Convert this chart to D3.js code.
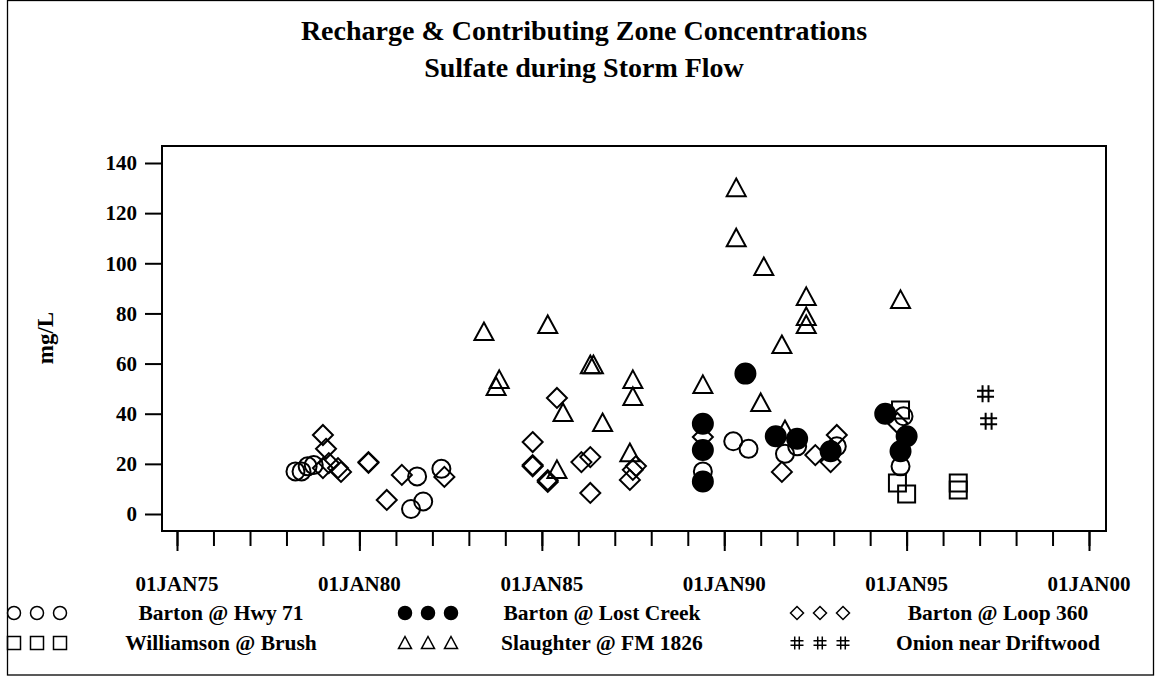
<!DOCTYPE html>
<html>
<head>
<meta charset="utf-8">
<script src="https://cdn.jsdelivr.net/npm/d3@7"></script>
<style>
  body { margin: 0; background: #fff; }
  text { font-family: "Liberation Serif", "DejaVu Serif", serif; font-weight: bold; fill: #000; }
</style>
</head>
<body>
<div id="myChart"></div>
<script>
// sampling dates (YYYY-MM) and sulfate values (mg/L) per station
var hwy71Dates = ["1978-04","1978-06","1978-08","1978-10","1981-08","1981-06","1981-10","1982-04",
  "1989-06","1990-04","1990-09","1991-09","1992-01","1993-02","1994-12","1994-11"];
var hwy71Vals = [17, 17, 19, 19.5, 15, 2, 5, 18, 17, 29, 26, 24, 27, 27, 39, 19];

var lostCreekDates = ["1989-06","1989-06","1989-06","1990-08","1991-06","1992-01","1992-12","1994-06","1995-01","1994-11"];
var lostCreekVals = [36, 25.5, 13, 56, 31, 30, 25, 40, 31, 25];

var loop360Dates = ["1979-01","1979-02","1979-03","1979-01","1979-06","1979-07","1980-04","1980-04","1980-10",
  "1981-03","1982-05","1985-06","1984-10","1984-10","1984-10","1985-03","1985-03","1986-02","1986-05",
  "1986-05","1987-06","1987-07","1987-08","1989-06","1991-08","1992-07","1993-02","1992-12","1994-10"];
var loop360Vals = [31.5, 26, 20.3, 18.3, 18.3, 16.8, 20.7, 20.4, 5.6,
  15.6, 14.8, 46.3, 28.7, 19.5, 19, 12.8, 13.5, 20.7, 22.7,
  8.4, 13.6, 17.6, 19.1, 30.7, 16.8, 23.5, 31.5, 20.7, 36.3];

var williamsonDates = ["1994-10","1995-01","1994-11","1996-06","1996-06"];
var williamsonVals = [12.4, 8, 41.5, 12.4, 9.6];

var slaughterDates = ["1983-06","1983-11","1983-10","1985-03","1985-08","1985-06","1986-05","1986-06","1986-09",
  "1987-07","1987-07","1987-06","1989-06","1990-05","1990-05","1991-02","1992-04","1992-04","1992-04",
  "1991-08","1991-01","1991-09","1994-11"];
var slaughterVals = [72.6, 53.5, 50.7, 75.4, 40.3, 17.6, 59.4, 59.4, 36.3,
  53.5, 46.7, 24.3, 51.5, 130, 110, 98.5, 86.6, 78.6, 75.4,
  67.4, 44.3, 33.5, 85.4];

var onionDates = ["1997-03","1997-04"];
var onionVals = [48, 37];

var xTickDates = ["1975","1980","1985","1990","1995","2000"];
var xTickLabels = ["01JAN75","01JAN80","01JAN85","01JAN90","01JAN95","01JAN00"];
var yTicks = [0, 20, 40, 60, 80, 100, 120, 140];

var legendNames = ["Barton @ Hwy 71", "Barton @ Lost Creek", "Barton @ Loop 360",
  "Williamson @ Brush", "Slaughter @ FM 1826", "Onion near Driftwood"];

var width = 1160, height = 676;
var frame = {left: 162, right: 1106, top: 146, bottom: 531};

var parseMonth = d3.timeParse("%Y-%m");
var parseYear = d3.timeParse("%Y");

var svg = d3.select("#myChart").append("svg")
  .attr("width", width).attr("height", height);

// outer border
svg.append("rect")
  .attr("x", 7.5).attr("y", 0.5).attr("width", 1146).attr("height", 674.5)
  .attr("fill", "none").attr("stroke", "#000").attr("stroke-width", 1.3);

// titles
svg.append("text").attr("x", 584).attr("y", 40).attr("text-anchor", "middle")
  .style("font-size", "28px").text("Recharge & Contributing Zone Concentrations");
svg.append("text").attr("x", 584).attr("y", 77).attr("text-anchor", "middle")
  .style("font-size", "28px").text("Sulfate during Storm Flow");

// scales
var xScale = d3.scaleTime()
  .domain([parseYear("1975"), parseYear("2000")])
  .range([177, 1089]);
var yScale = d3.scaleLinear().domain([0, 140]).range([514, 163]);

// frame
svg.append("rect")
  .attr("x", frame.left).attr("y", frame.top)
  .attr("width", frame.right - frame.left).attr("height", frame.bottom - frame.top)
  .attr("fill", "none").attr("stroke", "#000").attr("stroke-width", 2);

// x axis: yearly minor ticks, 5-year major ticks
var minorAxis = svg.append("g")
  .attr("transform", "translate(0," + frame.bottom + ")")
  .call(d3.axisBottom(xScale).ticks(d3.timeYear.every(1)).tickSize(15).tickFormat(""));
minorAxis.select(".domain").remove();
minorAxis.selectAll("line").attr("stroke-width", 2);

var majorAxis = svg.append("g")
  .attr("transform", "translate(0," + frame.bottom + ")")
  .call(d3.axisBottom(xScale).tickValues(xTickDates.map(parseYear)).tickSize(20).tickFormat(""));
majorAxis.select(".domain").remove();
majorAxis.selectAll("line").attr("stroke-width", 2);

svg.selectAll(".xlab")
  .data(xTickDates)
  .enter().append("text")
  .attr("class", "xlab")
  .attr("x", function(d) { return xScale(parseYear(d)); })
  .attr("y", 591)
  .attr("text-anchor", "middle")
  .style("font-size", "21px")
  .text(function(d, i) { return xTickLabels[i]; });

// y axis
var yAxis = svg.append("g")
  .attr("transform", "translate(" + frame.left + ",0)")
  .call(d3.axisLeft(yScale).tickValues(yTicks).tickSize(17).tickPadding(8));
yAxis.select(".domain").remove();
yAxis.selectAll("line").attr("stroke-width", 2);
yAxis.selectAll("text")
  .style("font-size", "21px")
  .style("font-family", "'Liberation Serif', serif")
  .style("font-weight", "bold");

svg.append("text")
  .attr("transform", "translate(53,338) rotate(-90)")
  .attr("text-anchor", "middle")
  .style("font-size", "23px")
  .text("mg/L");

// marker shapes
function shapePath(kind, s) {
  var h = s / 2;
  if (kind == "circle" || kind == "dot") return d3.symbol(d3.symbolCircle, Math.PI * h * h)();
  if (kind == "square") return "M" + (-h) + "," + (-h) + "H" + h + "V" + h + "H" + (-h) + "Z";
  if (kind == "diamond") return "M0," + (-h) + "L" + h + ",0L0," + h + "L" + (-h) + ",0Z";
  if (kind == "triangle") return "M0," + (-h) + "L" + h + "," + (h * 0.85) + "L" + (-h) + "," + (h * 0.85) + "Z";
  // hash
  var a = h * 0.35;
  return "M" + (-a) + "," + (-h) + "V" + h + "M" + a + "," + (-h) + "V" + h +
    "M" + (-h) + "," + (-a) + "H" + h + "M" + (-h) + "," + a + "H" + h;
}

var series = [
  {dates: hwy71Dates, vals: hwy71Vals, kind: "circle", size: 18},
  {dates: lostCreekDates, vals: lostCreekVals, kind: "dot", size: 20},
  {dates: loop360Dates, vals: loop360Vals, kind: "diamond", size: 20},
  {dates: williamsonDates, vals: williamsonVals, kind: "square", size: 17},
  {dates: slaughterDates, vals: slaughterVals, kind: "triangle", size: 19},
  {dates: onionDates, vals: onionVals, kind: "hash", size: 17}
];

var plot = svg.append("g");
series.forEach(function(s) {
  plot.selectAll(null)
    .data(s.vals)
    .enter()
    .append("path")
    .attr("d", shapePath(s.kind, s.size))
    .attr("transform", function(d, i) {
      return "translate(" + xScale(parseMonth(s.dates[i])) + "," + yScale(d) + ")";
    })
    .attr("fill", s.kind == "dot" ? "#000" : "none")
    .attr("stroke", "#000")
    .attr("stroke-width", 2);
});

// legend
var legendCols = [{sym: 14, text: 221}, {sym: 405, text: 602}, {sym: 797, text: 998}];
var legendRows = [613, 643];
series.forEach(function(s, i) {
  var col = legendCols[i % 3], row = legendRows[Math.floor(i / 3)];
  for (var k = 0; k < 3; k++) {
    svg.append("path")
      .attr("d", shapePath(s.kind, 13))
      .attr("transform", "translate(" + (col.sym + k * 23) + "," + row + ")")
      .attr("fill", s.kind == "dot" ? "#000" : "none")
      .attr("stroke", "#000")
      .attr("stroke-width", 1.5);
  }
  svg.append("text")
    .attr("x", col.text).attr("y", row + 7)
    .attr("text-anchor", "middle")
    .style("font-size", "21.5px")
    .text(legendNames[i]);
});
</script>
</body>
</html>
